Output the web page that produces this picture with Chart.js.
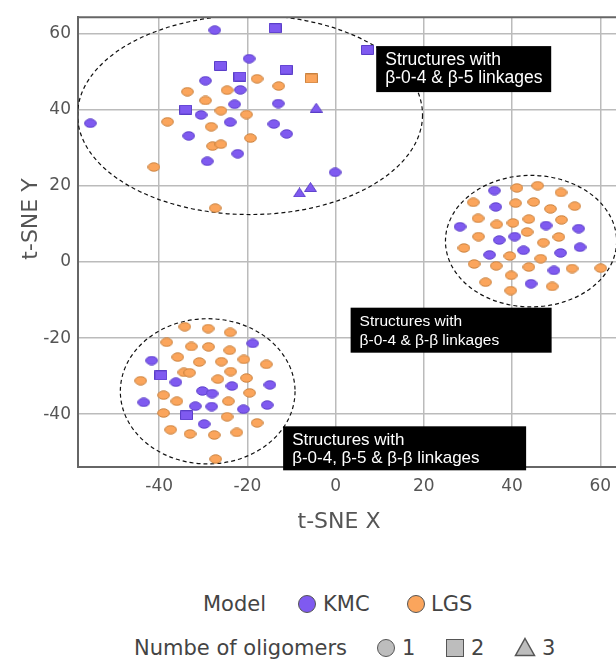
<!DOCTYPE html>
<html>
<head>
<meta charset="utf-8">
<script src="https://cdn.jsdelivr.net/npm/chart.js@4.4.1/dist/chart.umd.min.js"></script>
<style>
  body { margin: 0; background: #fff; overflow: hidden; }
  #wrap { position: relative; width: 616px; height: 660px; overflow: hidden;
          font-family: "DejaVu Sans", sans-serif; color: #444; }
  #scatter { position: absolute; left: 0; top: 0; }
  .lg { position: absolute; font-size: 21px; line-height: 28px; height: 28px; white-space: nowrap; }
  .sym { position: absolute; box-sizing: border-box; border: 1.5px solid #555; }
</style>
</head>
<body>
<div id="wrap">
  <canvas id="scatter" width="660" height="560"></canvas>

  <div class="lg" style="left:203px; top:590px;">Model</div>
  <div class="sym" style="left:298px; top:595px; width:18px; height:18px; border-radius:50%; background:#7f5af0;"></div>
  <div class="lg" style="left:323px; top:590px;">KMC</div>
  <div class="sym" style="left:407px; top:595px; width:18px; height:18px; border-radius:50%; background:#fba55c;"></div>
  <div class="lg" style="left:431px; top:590px;">LGS</div>

  <div class="lg" style="left:134px; top:634px;">Numbe of oligomers</div>
  <div class="sym" style="left:377px; top:639px; width:18px; height:18px; border-radius:50%; background:#bdbdbd;"></div>
  <div class="lg" style="left:402px; top:634px;">1</div>
  <div class="sym" style="left:446px; top:639px; width:18px; height:18px; background:#bdbdbd;"></div>
  <div class="lg" style="left:471px; top:634px;">2</div>
  <svg style="position:absolute; left:514px; top:637px;" width="22" height="20">
    <polygon points="11,1.5 20.5,18.5 1.5,18.5" fill="#bdbdbd" stroke="#555" stroke-width="1.5"/>
  </svg>
  <div class="lg" style="left:542px; top:634px;">3</div>
</div>

<script>
// KMC model, monomers / dimers / trimers  [t-SNE X, t-SNE Y]
const kmc1 = [
  [-27.4, 61.0], [-19.6, 53.5], [-29.5, 47.7], [-21.6, 45.3], [-22.9, 41.5], [-30.5, 38.7],
  [-23.9, 36.8], [-55.6, 36.5], [-33.3, 33.2], [-22.2, 28.5], [-29.1, 26.5], [-13.0, 41.7],
  [-14.0, 36.3], [-11.1, 33.7], [-0.1, 23.6],
  [36.0, 18.8], [36.3, 14.5], [47.7, 9.6], [28.2, 9.3], [55.1, 8.8], [37.1, 5.8], [40.6, 6.7],
  [55.4, 3.9], [42.6, 3.1], [51.0, 2.4], [34.9, 1.9], [49.5, -2.2], [44.3, -5.7],
  [-18.8, -21.4], [-41.7, -25.9], [-36.2, -31.6], [-14.9, -32.3], [-23.5, -32.6], [-30.2, -33.9],
  [-28.0, -34.6], [-43.5, -36.9], [-15.5, -37.6], [-31.8, -37.9], [-28.1, -38.0], [-20.9, -38.7],
  [-29.8, -42.6]
];
const kmc2 = [
  [-26.1, 51.6], [-21.7, 48.8], [-34.0, 40.1], [-13.7, 61.5], [7.2, 55.8], [-11.2, 50.6],
  [-39.6, -29.8], [-33.8, -40.3]
];
const kmc3 = [[-4.4, 40.6], [-8.2, 18.3], [-5.7, 19.7]];

// LGS model
const lgs1 = [
  [-17.8, 48.2], [-33.6, 44.8], [-24.6, 45.2], [-29.5, 42.5], [-26.0, 39.8], [-20.2, 38.8],
  [-38.1, 36.9], [-28.2, 35.6], [-19.3, 32.6], [-27.9, 30.5], [-26.0, 31.0], [-41.2, 25.0],
  [-27.3, 14.2], [-12.9, 46.3],
  [41.1, 19.5], [45.8, 20.1], [51.1, 18.3], [31.2, 15.7], [40.8, 15.5], [44.9, 15.8],
  [48.7, 14.0], [54.2, 14.7], [32.3, 11.5], [36.5, 9.9], [40.2, 10.3], [43.8, 11.3],
  [51.2, 11.1], [32.4, 6.7], [43.4, 7.9], [50.6, 6.6], [47.1, 5.1], [29.1, 3.7], [39.5, 1.6],
  [46.5, 0.9], [31.4, -0.5], [36.4, -1.0], [43.8, -1.3], [53.6, -1.7], [60.1, -1.6],
  [39.8, -3.5], [34.0, -5.3], [49.1, -6.4], [39.7, -7.5],
  [-34.2, -17.0], [-28.9, -17.5], [-23.9, -18.5], [-38.3, -21.1], [-32.7, -22.2], [-28.8, -22.3],
  [-24.0, -23.2], [-35.8, -25.0], [-30.9, -26.3], [-25.9, -26.2], [-20.8, -25.6], [-15.7, -26.9],
  [-34.4, -29.0], [-33.1, -29.1], [-23.8, -28.8], [-44.2, -31.2], [-26.7, -30.8], [-20.2, -30.5],
  [-39.0, -35.0], [-19.5, -34.4], [-36.0, -36.6], [-24.3, -36.6], [-39.0, -39.7], [-24.6, -40.7],
  [-17.8, -42.3], [-37.4, -44.1], [-33.0, -45.2], [-27.5, -45.5], [-22.4, -44.8], [-27.2, -51.8]
];
const lgs2 = [[-5.5, 48.3]];

const xTicks = [-40, -20, 0, 20, 40, 60];
const yTicks = [-40, -20, 0, 20, 40, 60];

// dashed cluster outlines: [cx, cy, rx, ry] in data units
const clusters = [
  [-19.4, 38.7, 39.1, 26.2],
  [44.3, 5.5, 19.4, 17.3],
  [-29.0, -34.0, 19.8, 19.1]
];

const notes = [
  { x: 9.2, y: 56.8, w: 175, h: 46, size: 17.5, lines: ["Structures with", "β-0-4 & β-5 linkages"] },
  { x: 3.4, y: -12.0, w: 201, h: 45, size: 15.5, lines: ["Structures with", "β-0-4 & β-β linkages"] },
  { x: -11.9, y: -43.2, w: 243, h: 44, size: 17, lines: ["Structures with", "β-0-4, β-5 & β-β linkages"] }
];

const PURPLE = "#7f5af0", PURPLE_LINE = "#5a3ec8";
const ORANGE = "#fba55c", ORANGE_LINE = "#c8813e";

function marker(shape, fill, line) {
  const c = document.createElement("canvas");
  c.width = 13; c.height = 10;
  const g = c.getContext("2d");
  g.fillStyle = fill; g.strokeStyle = line; g.lineWidth = 1;
  g.beginPath();
  if (shape === "circle") g.ellipse(6.5, 5, 5.8, 4.2, 0, 0, Math.PI * 2);
  else if (shape === "square") g.rect(0.5, 0.5, 12, 9);
  else { g.moveTo(6.5, 0.5); g.lineTo(12.5, 9.5); g.lineTo(0.5, 9.5); g.closePath(); }
  g.fill(); g.stroke();
  return c;
}

function toPoints(arr) {
  return arr.map(p => ({ x: p[0], y: p[1] }));
}

const extras = {
  id: "extras",
  beforeDatasetsDraw(chart) {
    const { ctx, chartArea: a, scales: { x, y } } = chart;
    ctx.save();
    ctx.beginPath();
    ctx.rect(a.left, a.top, a.right - a.left, a.bottom - a.top);
    ctx.clip();
    ctx.setLineDash([4, 3]);
    ctx.lineWidth = 1.2;
    ctx.strokeStyle = "#111";
    clusters.forEach(([cx, cy, rx, ry]) => {
      const px = x.getPixelForValue(cx), py = y.getPixelForValue(cy);
      const prx = x.getPixelForValue(cx + rx) - px;
      const pry = py - y.getPixelForValue(cy + ry);
      ctx.beginPath();
      ctx.ellipse(px, py, prx, pry, 0, 0, Math.PI * 2);
      ctx.stroke();
    });
    ctx.restore();
  },
  afterDraw(chart) {
    const { ctx, chartArea: a, scales: { x, y } } = chart;
    ctx.save();
    // top frame line
    ctx.strokeStyle = "#666";
    ctx.lineWidth = 2;
    ctx.beginPath();
    ctx.moveTo(a.left - 1, a.top);
    ctx.lineTo(a.right, a.top);
    ctx.stroke();

    // labels in black boxes
    notes.forEach(n => {
      const left = x.getPixelForValue(n.x), top = y.getPixelForValue(n.y);
      ctx.fillStyle = "#000";
      ctx.fillRect(left, top, n.w, n.h);
      ctx.fillStyle = "#fff";
      ctx.font = n.size + "px 'Liberation Sans', Arial, sans-serif";
      ctx.textBaseline = "alphabetic";
      ctx.textAlign = "left";
      ctx.fillText(n.lines[0], left + 9, top + 18.5);
      ctx.fillText(n.lines[1], left + 9, top + 37);
    });

    // axis titles
    ctx.fillStyle = "#555";
    ctx.font = "22px 'DejaVu Sans', sans-serif";
    ctx.textAlign = "center";
    ctx.textBaseline = "middle";
    ctx.fillText("t-SNE X", 339, 522);
    ctx.translate(31, 219);
    ctx.rotate(-Math.PI / 2);
    ctx.fillText("t-SNE Y", 0, 0);
    ctx.restore();
  }
};

new Chart(document.getElementById("scatter"), {
  type: "scatter",
  data: {
    datasets: [
      { label: "KMC 1", data: toPoints(kmc1), pointStyle: marker("circle", PURPLE, PURPLE_LINE) },
      { label: "KMC 2", data: toPoints(kmc2), pointStyle: marker("square", PURPLE, PURPLE_LINE) },
      { label: "KMC 3", data: toPoints(kmc3), pointStyle: marker("triangle", PURPLE, PURPLE_LINE) },
      { label: "LGS 1", data: toPoints(lgs1), pointStyle: marker("circle", ORANGE, ORANGE_LINE) },
      { label: "LGS 2", data: toPoints(lgs2), pointStyle: marker("square", ORANGE, ORANGE_LINE) }
    ]
  },
  options: {
    responsive: false,
    animation: false,
    devicePixelRatio: 1,
    events: [],
    layout: { padding: { top: 15, left: 0, right: 0, bottom: 0 } },
    plugins: { legend: { display: false }, tooltip: { enabled: false } },
    scales: {
      x: {
        type: "linear",
        min: -58.4,
        max: 72.4,
        afterFit: s => { s.height = 93; },
        afterBuildTicks: s => { s.ticks = xTicks.map(v => ({ value: v })); },
        grid: { color: "#bbbbbb", lineWidth: 1.5, drawTicks: false },
        border: { color: "#666", width: 2 },
        ticks: { color: "#555", padding: 9, font: { family: "DejaVu Sans", size: 17 } }
      },
      y: {
        type: "linear",
        min: -53.9,
        max: 64.4,
        afterFit: s => { s.width = 78; },
        afterBuildTicks: s => { s.ticks = yTicks.map(v => ({ value: v })); },
        grid: { color: "#bbbbbb", lineWidth: 1.5, drawTicks: false },
        border: { color: "#666", width: 2 },
        ticks: { color: "#555", padding: 7, font: { family: "DejaVu Sans", size: 17 } }
      }
    }
  },
  plugins: [extras]
});
</script>
</body>
</html>
